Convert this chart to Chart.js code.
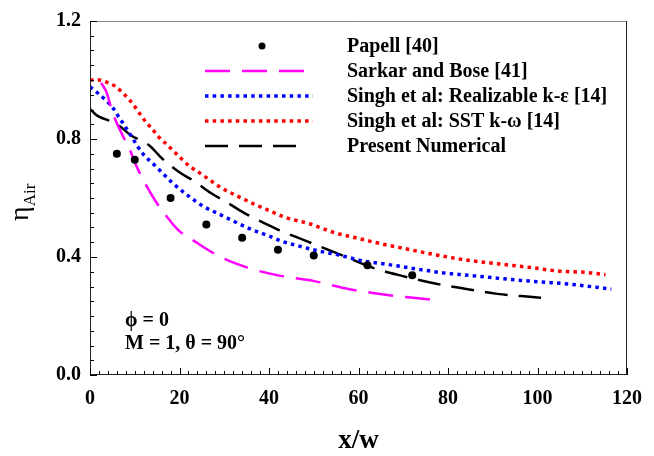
<!DOCTYPE html>
<html>
<head>
<meta charset="utf-8">
<script src="https://cdn.jsdelivr.net/npm/chart.js@4.4.1/dist/chart.umd.min.js"></script>
<style>
	html, body { margin: 0; padding: 0; background: #fff; }
	#eta-chart { display: block; }
</style>
</head>
<body>
<canvas id="eta-chart" width="654" height="456"></canvas>
<script>
// Papell [40] (experiment)
var papellX = [6, 10, 18, 26, 34, 42, 50, 62, 72];
var papellY = [0.75, 0.73, 0.60, 0.51, 0.465, 0.425, 0.405, 0.372, 0.338];

// Sarkar and Bose [41]
var sarkarX = [2.5, 3.7, 4.8, 5.9, 7.3, 8.8, 10.3, 11.7, 14.7, 17, 19.8, 23.5, 29.3, 35.2, 42.6, 49.9, 58, 66.1, 74.9, 78.5];
var sarkarY = [0.99, 0.958, 0.902, 0.857, 0.812, 0.767, 0.711, 0.667, 0.588, 0.54, 0.49, 0.452, 0.399, 0.364, 0.336, 0.319, 0.291, 0.272, 0.258, 0.252];

// Singh et al: Realizable k-e [14]
var realX = [0, 1.8, 3.5, 5, 6.2, 7.3, 9.2, 11.6, 15, 18.3, 21.9, 25.5, 29.2, 32.7, 36.3, 39.7, 43.3, 47, 50.6, 55.8, 60.9, 66.4, 71.9, 78.5, 85.9, 93.2, 100.2, 107.2, 112.3, 116.5];
var realY = [0.977, 0.955, 0.932, 0.908, 0.88, 0.855, 0.81, 0.754, 0.703, 0.653, 0.608, 0.57, 0.543, 0.517, 0.492, 0.473, 0.451, 0.436, 0.422, 0.406, 0.387, 0.375, 0.362, 0.347, 0.336, 0.325, 0.316, 0.308, 0.299, 0.291];

// Singh et al: SST k-w [14]
var sstX = [0, 2, 3.7, 5.5, 7.2, 8.8, 10.1, 11.3, 12.6, 14.1, 15.4, 17.2, 19, 20.7, 22.3, 24.1, 26, 29.5, 33.3, 37, 40.4, 43.7, 49.2, 54.3, 59.4, 65, 70.5, 77.4, 84.4, 91.7, 98.7, 104.2, 111.5, 115.2];
var sstY = [1.0, 1.0, 0.993, 0.98, 0.958, 0.933, 0.908, 0.882, 0.856, 0.83, 0.806, 0.781, 0.754, 0.729, 0.707, 0.689, 0.669, 0.633, 0.604, 0.577, 0.555, 0.534, 0.512, 0.484, 0.465, 0.445, 0.428, 0.407, 0.389, 0.376, 0.364, 0.353, 0.347, 0.34];

// Present Numerical
var presentX = [0, 1.5, 5.9, 9.2, 13.2, 16.1, 19.8, 23.5, 27.1, 30.8, 34.5, 38.9, 41.8, 48.4, 55.8, 63.1, 69.7, 77.1, 84.4, 91, 98.3, 100.8];
var presentY = [0.902, 0.88, 0.852, 0.812, 0.779, 0.734, 0.689, 0.655, 0.616, 0.583, 0.549, 0.515, 0.494, 0.454, 0.409, 0.364, 0.336, 0.31, 0.291, 0.275, 0.265, 0.262];

// axis ticks
var xTicks = [0, 20, 40, 60, 80, 100, 120];
var yTicks = [0.0, 0.4, 0.8, 1.2];

var FONT = '"Liberation Serif", "Times New Roman", serif';
var EtaChart;

/**
 * x, y 배열 -> {x, y} 포인트
 */
function toPoints(xs, ys) {
	var pts = [];
	for (var i = 0; i < xs.length; i++) {
		pts.push({ x: xs[i], y: ys[i] });
	}
	return pts;
}

/**
 * 프레임, 눈금, 축 제목, 주석, 범례 그리기
 */
var decorPlugin = {
	id: 'decor',
	afterDraw: function(chart) {
		var ctx = chart.ctx;
		var a = chart.chartArea;
		var xs = chart.scales.x;
		var ys = chart.scales.y;
		var i, p;

		ctx.save();
		// frame
		ctx.lineWidth = 1;
		ctx.strokeStyle = '#888';
		ctx.beginPath();
		ctx.moveTo(a.left, a.top + 0.5);
		ctx.lineTo(a.right, a.top + 0.5);
		ctx.stroke();
		ctx.strokeStyle = '#222';
		ctx.beginPath();
		ctx.moveTo(a.right - 0.5, a.top);
		ctx.lineTo(a.right - 0.5, a.bottom);
		ctx.moveTo(a.left + 0.5, a.top);
		ctx.lineTo(a.left + 0.5, a.bottom);
		ctx.moveTo(a.left, a.bottom - 0.5);
		ctx.lineTo(a.right, a.bottom - 0.5);
		ctx.stroke();

		// inward ticks
		ctx.strokeStyle = '#000';
		ctx.beginPath();
		for (i = 0; i <= 60; i++) {
			p = Math.round(xs.getPixelForValue(i * 2)) + 0.5;
			ctx.moveTo(p, a.bottom);
			ctx.lineTo(p, a.bottom - (i % 10 === 0 ? 7 : 4));
		}
		for (i = 0; i <= 24; i++) {
			p = Math.round(ys.getPixelForValue(i * 0.05)) + 0.5;
			ctx.moveTo(a.left, p);
			ctx.lineTo(a.left + (i % 8 === 0 ? 7 : 4), p);
		}
		ctx.stroke();

		// axis titles
		ctx.fillStyle = '#000';
		ctx.textAlign = 'center';
		ctx.textBaseline = 'middle';
		ctx.font = 'bold 27px ' + FONT;
		ctx.fillText('x/w', (a.left + a.right) / 2, 441);

		ctx.save();
		ctx.translate(27, 199);
		ctx.rotate(-Math.PI / 2);
		ctx.textAlign = 'left';
		ctx.textBaseline = 'alphabetic';
		ctx.font = '28px ' + FONT;
		ctx.fillText('η', -22, 1);
		var w = ctx.measureText('η').width;
		ctx.font = '17px ' + FONT;
		ctx.fillText('Air', -22 + w, 8);
		ctx.restore();

		// annotation
		ctx.textAlign = 'left';
		ctx.font = 'bold 20px ' + FONT;
		ctx.fillText('ϕ = 0', 125, 321);
		ctx.fillText('M = 1, θ = 90°', 125, 344);

		// legend
		var rowY = 46;
		chart.data.datasets.forEach(function(ds, k) {
			var y = rowY + k * 25;
			if (ds.showLine === false) {
				ctx.beginPath();
				ctx.arc(262, y, 3.5, 0, Math.PI * 2);
				ctx.fillStyle = ds.backgroundColor;
				ctx.fill();
			} else {
				ctx.save();
				ctx.strokeStyle = ds.borderColor;
				ctx.lineWidth = ds.borderWidth;
				ctx.setLineDash(ds.borderDash || []);
				ctx.beginPath();
				ctx.moveTo(205, y);
				ctx.lineTo(ds.borderDash[0] < 6 ? 313 : 307, y);
				ctx.stroke();
				ctx.restore();
			}
			ctx.fillStyle = '#000';
			ctx.fillText(ds.label, 347, y + 1);
		});
		ctx.restore();
	}
};

/**
 * 차트 생성하기
 */
function createChart() {
	var canvas = document.getElementById('eta-chart');

	EtaChart = new Chart(canvas, {
		type: 'scatter',
		data: {
			datasets: [{
				label: 'Papell [40]',
				data: toPoints(papellX, papellY),
				showLine: false,
				pointRadius: 4,
				pointBackgroundColor: '#000',
				backgroundColor: '#000',
				borderColor: '#000',
				pointBorderWidth: 0
			}, {
				label: 'Sarkar and Bose [41]',
				data: toPoints(sarkarX, sarkarY),
				showLine: true,
				borderColor: '#ff00ff',
				borderWidth: 2.5,
				borderDash: [25, 12],
				pointRadius: 0,
				cubicInterpolationMode: 'monotone'
			}, {
				label: 'Singh et al: Realizable k-ε [14]',
				data: toPoints(realX, realY),
				showLine: true,
				borderColor: '#0000ff',
				borderWidth: 3.5,
				borderDash: [3.5, 4.2],
				pointRadius: 0,
				cubicInterpolationMode: 'monotone'
			}, {
				label: 'Singh et al: SST k-ω [14]',
				data: toPoints(sstX, sstY),
				showLine: true,
				borderColor: '#ff0000',
				borderWidth: 3.5,
				borderDash: [3.5, 4.2],
				pointRadius: 0,
				cubicInterpolationMode: 'monotone'
			}, {
				label: 'Present Numerical',
				data: toPoints(presentX, presentY),
				showLine: true,
				borderColor: '#000',
				borderWidth: 2.5,
				borderDash: [23, 11],
				pointRadius: 0,
				cubicInterpolationMode: 'monotone'
			}]
		},
		options: {
			responsive: false,
			animation: false,
			layout: { padding: { left: 0, top: 18, right: 19, bottom: 0 } },
			plugins: {
				legend: { display: false },
				tooltip: { enabled: false }
			},
			scales: {
				x: {
					type: 'linear',
					min: 0,
					max: 120,
					afterFit: function(s) { s.height = 81; },
					afterBuildTicks: function(s) {
						s.ticks = xTicks.map(function(v) { return { value: v }; });
					},
					grid: { display: false, drawTicks: false },
					border: { display: false },
					ticks: {
						color: '#000',
						padding: 12,
						maxRotation: 0,
						font: { family: FONT, size: 20, weight: 'bold' }
					}
				},
				y: {
					type: 'linear',
					min: 0,
					max: 1.2,
					afterFit: function(s) { s.width = 90; },
					afterBuildTicks: function(s) {
						s.ticks = yTicks.map(function(v) { return { value: v }; });
					},
					grid: { display: false, drawTicks: false },
					border: { display: false },
					ticks: {
						color: '#000',
						padding: 9,
						font: { family: FONT, size: 20, weight: 'bold' },
						callback: function(v) { return Number(v).toFixed(1); }
					}
				}
			}
		},
		plugins: [decorPlugin]
	});
}

createChart();
</script>
</body>
</html>
